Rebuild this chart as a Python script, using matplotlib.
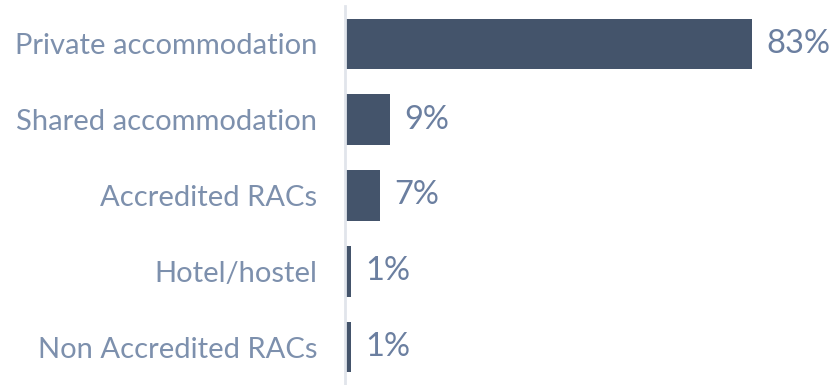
import matplotlib.pyplot as plt

categories = ["Private accommodation", "Shared accommodation", "Accredited RACs",
              "Hotel/hostel", "Non Accredited RACs"]
values = [83, 9, 7, 1, 1]
value_labels = ["83%", "9%", "7%", "1%", "1%"]

plt.rcParams['font.family'] = ['Lato', 'DejaVu Sans']

fig = plt.figure(figsize=(8.33, 3.85), dpi=100)
ax = fig.add_axes([345 / 833, 0, 455 / 833, 379 / 385])

ypos = range(len(categories))
ax.barh(ypos, values, height=0.67, color="#44546b", left=0.2)
for y, v, lab in zip(ypos, values, value_labels):
    ax.annotate(lab, (v, y), xytext=(15, 0), textcoords="offset pixels",
                va="center", ha="left", fontsize=23.5, color="#6b7fa0")

ax.set_xlim(0, 93)
ax.set_ylim(4.5, -0.5)
ax.set_yticks(list(ypos))
ax.set_yticklabels(categories, fontsize=21, color="#7d90ad")
ax.tick_params(axis="y", length=0, pad=20)
ax.set_xticks([])
for s in ["top", "right", "bottom"]:
    ax.spines[s].set_visible(False)
ax.spines["left"].set_color("#e1e5eb")
ax.spines["left"].set_linewidth(2)

fig.savefig("out.png", dpi=100)
